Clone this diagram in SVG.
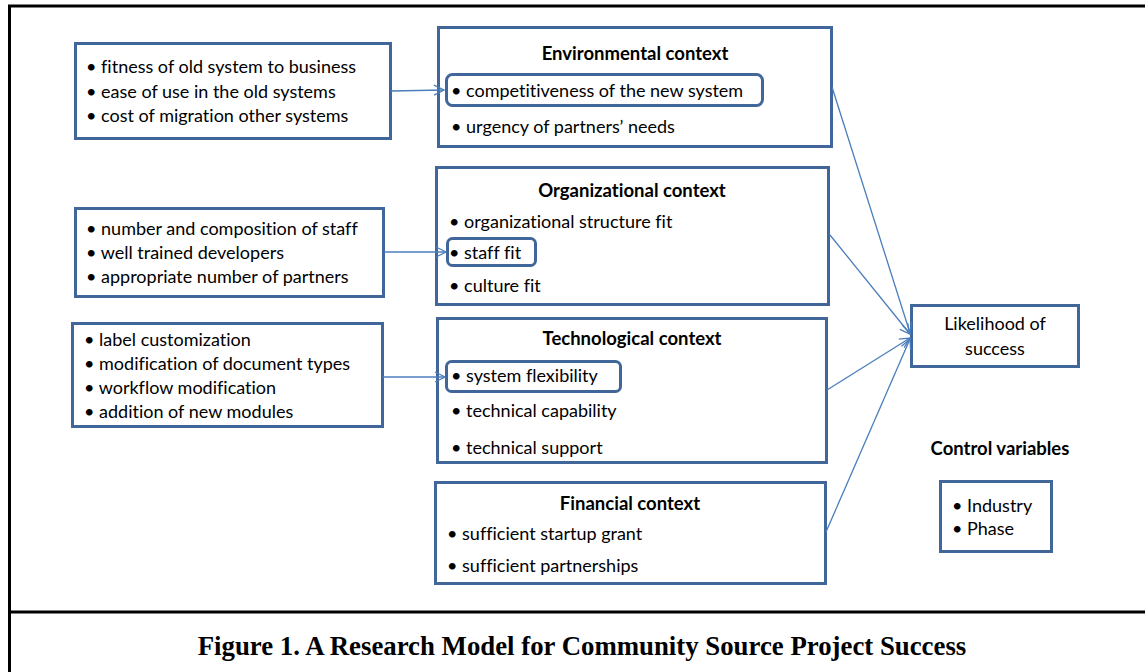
<svg xmlns="http://www.w3.org/2000/svg" width="1145" height="672" viewBox="0 0 1145 672">
<style>
.frame{fill:none;stroke:#000;stroke-width:3}
.box{fill:#fff;stroke:#41679A;stroke-width:3}
.inner{fill:none;stroke:#41679A;stroke-width:3}
.t{font-family:Lato,"Liberation Sans",Arial,sans-serif;font-size:18px;fill:#000;font-variant-ligatures:none}
.b{font-family:Lato,"Liberation Sans",Arial,sans-serif;font-size:18.5px;font-weight:bold;fill:#000;font-variant-ligatures:none}
.cap{font-family:"Liberation Serif","Times New Roman",serif;font-size:26.8px;font-weight:bold;fill:#000}
.c{fill:none;stroke:#4A7EBB;stroke-width:1.3}
</style>
<defs>
<marker id="ah" markerWidth="12" markerHeight="12" refX="11" refY="6" orient="auto" markerUnits="userSpaceOnUse">
<path d="M1,1 L11,6 L1,11" fill="none" stroke="#4A7EBB" stroke-width="1.3"/>
</marker>
</defs>
<rect class="frame" x="9.5" y="6" width="1140" height="680"/>
<line x1="9" y1="612" x2="1145" y2="612" stroke="#000" stroke-width="3"/>

<g id="legacy">
<rect class="box" x="75.5" y="43.5" width="315" height="95"/>
<text class="t" x="86" y="73">• fitness of old system to business</text>
<text class="t" x="86" y="98">• ease of use in the old systems</text>
<text class="t" x="86" y="122">• cost of migration other systems</text>
</g>

<g id="staffing">
<rect class="box" x="75.5" y="208.5" width="308" height="88"/>
<text class="t" x="86" y="235">• number and composition of staff</text>
<text class="t" x="86" y="259">• well trained developers</text>
<text class="t" x="86" y="283">• appropriate number of partners</text>
</g>

<g id="customization">
<rect class="box" x="72.5" y="323.5" width="310" height="103"/>
<text class="t" x="84" y="346">• label customization</text>
<text class="t" x="84" y="370">• modification of document types</text>
<text class="t" x="84" y="394">• workflow modification</text>
<text class="t" x="84" y="418">• addition of new modules</text>
</g>

<g id="environmental">
<rect class="box" x="438.5" y="27.5" width="393" height="119"/>
<text class="b" x="635" y="60" text-anchor="middle">Environmental context</text>
<rect class="inner" x="446.5" y="74.5" width="316" height="31" rx="6"/>
<text class="t" x="451" y="97">• competitiveness of the new system</text>
<text class="t" x="451" y="133">• urgency of partners’ needs</text>
</g>

<g id="organizational">
<rect class="box" x="436.5" y="167.5" width="392" height="137"/>
<text class="b" x="632" y="197" text-anchor="middle">Organizational context</text>
<text class="t" x="449" y="228">• organizational structure fit</text>
<rect class="inner" x="447.5" y="238.5" width="88" height="27" rx="5"/>
<text class="t" x="449" y="259">• staff fit</text>
<text class="t" x="449" y="292">• culture fit</text>
</g>

<g id="technological">
<rect class="box" x="437.5" y="318.5" width="389" height="144"/>
<text class="b" x="632" y="345" text-anchor="middle">Technological context</text>
<rect class="inner" x="446.5" y="361.5" width="174" height="30" rx="5"/>
<text class="t" x="451" y="382">• system flexibility</text>
<text class="t" x="451" y="417">• technical capability</text>
<text class="t" x="451" y="454">• technical support</text>
</g>

<g id="financial">
<rect class="box" x="435.5" y="482.5" width="390" height="101"/>
<text class="b" x="630" y="510" text-anchor="middle">Financial context</text>
<text class="t" x="447" y="540">• sufficient startup grant</text>
<text class="t" x="447" y="572">• sufficient partnerships</text>
</g>

<g id="likelihood">
<rect class="box" x="911.5" y="305.5" width="167" height="61"/>
<text class="t" x="995" y="330" text-anchor="middle">Likelihood of</text>
<text class="t" x="995" y="355" text-anchor="middle">success</text>
</g>

<g id="control">
<text class="b" x="1000" y="455" text-anchor="middle">Control variables</text>
<rect class="box" x="940.5" y="481.5" width="111" height="70"/>
<text class="t" x="952" y="512">• Industry</text>
<text class="t" x="952" y="535">• Phase</text>
</g>

<g id="connectors">
<line class="c" x1="391" y1="91" x2="444" y2="90" marker-end="url(#ah)"/>
<line class="c" x1="384" y1="252" x2="446" y2="252" marker-end="url(#ah)"/>
<line class="c" x1="383" y1="377" x2="445" y2="377" marker-end="url(#ah)"/>
<line class="c" x1="832" y1="87" x2="910" y2="333" marker-end="url(#ah)"/>
<line class="c" x1="830" y1="235" x2="910" y2="334" marker-end="url(#ah)"/>
<line class="c" x1="827" y1="390" x2="910" y2="338" marker-end="url(#ah)"/>
<line class="c" x1="826" y1="532" x2="910" y2="339" marker-end="url(#ah)"/>
</g>

<text class="cap" x="582" y="655" text-anchor="middle">Figure 1. A Research Model for Community Source Project Success</text>
</svg>
